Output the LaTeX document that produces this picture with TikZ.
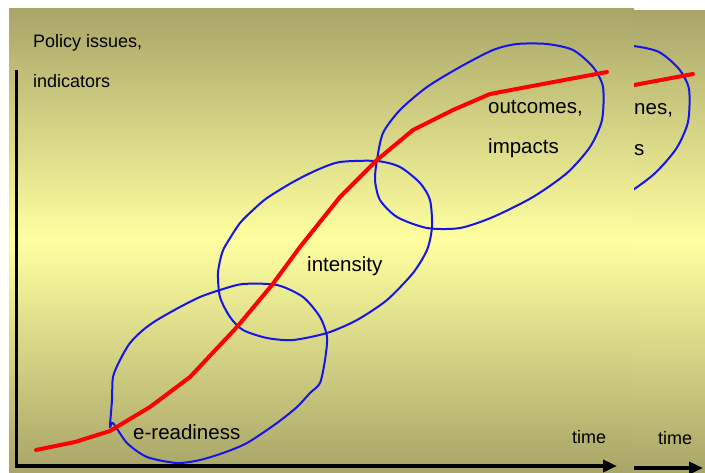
\documentclass[tikz,border=0pt]{standalone}
\usepackage{fontspec}
\setmainfont{Liberation Sans}
\usepackage{xcolor}
\usepackage{tikz}
\usetikzlibrary{arrows.meta}
\definecolor{slideolive}{RGB}{168, 165, 104}
\definecolor{slideyellow}{RGB}{255, 255, 160}
\definecolor{loopblue}{RGB}{20, 20, 235}
\definecolor{trendred}{RGB}{255, 0, 0}
\tikzset{
    axislabel/.style={anchor=west, inner sep=0pt, font=\fontsize{18}{20}\selectfont},
    phaselabel/.style={anchor=west, inner sep=0pt, font=\fontsize{20.5}{22}\selectfont},
    phaseloop/.style={loopblue, line width=2pt, line join=round},
    trend/.style={trendred, line width=4pt, line join=round, line cap=round},
    timeaxis/.style={line width=3.5pt, -{Triangle[length=14pt, width=12pt]}},
    slideback/.style={top color=slideolive, bottom color=slideolive, middle color=slideyellow}
}
\newcommand{\slidetrend}{%
    \draw[trend] (36,450) -- (75,442) -- (110,431) -- (150,407) -- (190,377)
        -- (237,327) -- (272,285) -- (300,247) -- (340,197) -- (377,160)
        -- (413,130) -- (453,110) -- (490,94) -- (527,87) -- (607,72);}
\newcommand{\outcomeloop}{%
    \draw[phaseloop] plot[smooth cycle, tension=0.45] coordinates {
        (377,160) (383,133) (400,110) (427,87) (460,67) (493,50) (517,44)
        (547,44) (573,50) (593,67) (603,87) (602,120) (590,147) (567,173)
        (533,197) (493,217) (460,228) (427,228) (397,217) (380,200) (375,180)};}

\begin{document}
\begin{tikzpicture}[x=1pt, y=-1pt, >=Stealth]
    \fill[white] (0,0) rectangle (705,472);
    \useasboundingbox (0,0) rectangle (705,472);
    % main slide
    \begin{scope}
        \clip (9,8) rectangle (634,472);
        \shade[slideback] (9,8) rectangle (634,472);
        \draw[line width=3pt] (16.5,70) -- (16.5,466);
        \draw[timeaxis] (15,466) -- (617,466);
        \node[axislabel] (policy) at (33,43) {Policy issues,};
        \node[axislabel] (indic) at (33,81) {indicators};
        \node[axislabel] (time) at (572,437) {time};
        % phases
        \draw[phaseloop] plot[smooth cycle, tension=0.45] coordinates {
            (110,427) (112,400) (113,377) (120,360) (130,343) (143,330) (157,320)
            (180,307) (200,297) (220,290) (243,284) (277,285) (303,297) (320,317)
            (327,337) (325,360) (320,383) (310,393) (297,407) (277,423) (247,443)
            (223,453) (200,460) (177,463) (147,457) (127,443) (113,423)};
        \draw[phaseloop] plot[smooth cycle, tension=0.45] coordinates {
            (220,297) (218,273) (222,253) (227,243) (240,223) (253,210) (267,198)
            (293,182) (317,170) (340,162) (377,161) (400,167) (420,183) (430,200)
            (432,227) (427,250) (413,273) (387,300) (357,320) (327,333) (293,340)
            (267,338) (243,330) (230,317)};
        \outcomeloop
        \slidetrend
        \node[phaselabel] (ready) at (133,432) {e-readiness};
        \node[phaselabel] (inten) at (307,266) {intensity};
        \node[phaselabel] (outc) at (488,108) {outcomes,};
        \node[phaselabel] (impact) at (488,148) {impacts};
    \end{scope}
    % the next slide peeking out on the right
    \begin{scope}
        \clip (634,10) rectangle (705,472);
        \begin{scope}[shift={(86,2)}]
            \shade[slideback] (9,8) rectangle (634,472);
            \draw[timeaxis] (15,466) -- (617,466);
            \outcomeloop
            \slidetrend
        \end{scope}
        \node[axislabel] (time2) at (658,438) {time};
        \node[phaselabel] (outc2) at (634,110) {nes,};
        \node[phaselabel] (impact2) at (634,150) {s};
    \end{scope}
\end{tikzpicture}
\end{document}
